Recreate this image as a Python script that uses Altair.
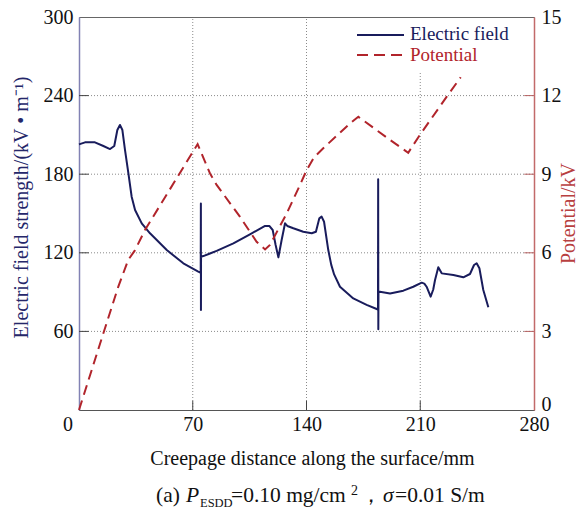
import altair as alt
import pandas as pd

# Electric field strength along the creepage path (kV/m)
dist_e = [0, 3.7, 9.8, 15, 19.1, 21.7, 23.6, 25.2, 26.7, 28.3, 30.4, 32.4, 34.5,
          38.6, 43.7, 54, 64.2, 73.4, 74.9, 75.0, 75.05, 75.1, 76.5, 80.6, 84.7,
          95, 105.2, 114.5, 117.1, 119.2, 121.0, 122.7, 124.7, 126.8, 128.2, 131.9,
          138, 143.2, 145.8, 147.9, 149.3, 150.8, 153.4, 155.2, 157, 160.6, 168.8,
          177, 183.2, 184.0, 184.1, 184.2, 184.3, 185.2, 191.4, 199.6, 205.7, 210.9,
          212.5, 213.9, 216.4, 218, 219.1, 221.1, 223.2, 230.4, 236.5, 240.6, 243.1,
          244.7, 246.4, 248.8, 251.9]
field_e = [202.8, 204.3, 204.3, 201.5, 199.2, 201.5, 213.7, 217.6, 213.7, 198.5,
           180.7, 162.8, 152.7, 142.5, 134.9, 122.1, 112, 105.6, 104.8, 157.7, 76.3,
           117, 117.5, 119.5, 121.5, 127.2, 134.1, 140.5, 140.5, 137.4, 126, 116.5,
           129.8, 142.5, 140.5, 138.7, 136.1, 134.9, 136.1, 146.3, 147.6, 143.7,
           122.1, 111, 103.5, 94.1, 85.2, 80.2, 77.1, 76.5, 176.1, 61.6, 90, 90.3,
           89, 91.1, 94.1, 97.2, 96.5, 94.1, 86.5, 92, 99.2, 108.9, 104.3, 103,
           101.3, 103.8, 110.7, 112, 108.2, 91.6, 78.4]

# Surface potential along the creepage path (kV)
dist_v = [0, 15, 24.2, 30.3, 34.5, 40.6, 73, 80.6, 84.7, 99, 109.3, 114.5, 117.5,
          127.8, 136, 140.1, 144.6, 150.3, 166.8, 171.9, 191.4, 202.6, 209.8,
          226.3, 234.9]
pot_v = [0, 2.93, 4.71, 5.73, 6.1, 6.87, 10.15, 9.03, 8.59, 7.38, 6.42, 6.13, 6.3,
         7.5, 8.59, 9.16, 9.64, 9.99, 10.94, 11.19, 10.31, 9.82, 10.5, 11.96, 12.7]

x_ticks = [70, 140, 210, 280]
x_grid = [70, 140, 210]
left_ticks = [60, 120, 180, 240, 300]
left_grid = [60, 120, 180, 240]
right_ticks = [0, 3, 6, 9, 12, 15]
right_inner = [3, 6, 9, 12]

NAVY = "#191c5c"
RED = "#b1242b"
RED_TITLE = "#b8403f"
FONT = "Liberation Serif"
FS = 20

field_df = pd.DataFrame({"d": dist_e, "E": field_e})
pot_df = pd.DataFrame({"d": dist_v, "V": pot_v})

x_scale = alt.Scale(domain=[0, 280], nice=False, zero=False)
e_scale = alt.Scale(domain=[0, 300], nice=False)
v_scale = alt.Scale(domain=[0, 15], nice=False)

# One axis definition per scale, shared by every layer that uses the scale
x_axis = alt.Axis(
    values=x_ticks, grid=False, ticks=False, domainColor="#555555",
    labelFont=FONT, labelFontSize=FS, labelColor="#111111", labelPadding=4,
    labelFlush=False,
    title="Creepage distance along the surface/mm", titleFont=FONT,
    titleFontSize=FS, titleFontWeight="normal", titleColor="#111111",
    titleX=233, titleY=54, titleAlign="center", titleBaseline="alphabetic",
)
e_axis = alt.Axis(
    values=left_ticks, grid=False, ticks=False, domainColor="#8282b4",
    domainWidth=1.5, labelFont=FONT, labelFontSize=FS, labelColor="#111111",
    labelPadding=6, labelFlush=False, title="Electric field strength/(kV • m⁻¹)",
    titleFont=FONT, titleFontSize=FS, titleFontWeight="normal",
    titleColor="#25276a", titleX=-58, titleY=190, titleAngle=270,
    titleBaseline="middle", titleAlign="center",
)
v_axis = alt.Axis(
    orient="right", values=right_ticks, grid=False, ticks=False,
    domainColor="#c26a6a", domainWidth=1.5, labelFont=FONT,
    labelFontSize=FS, labelColor="#111111", labelPadding=7, labelFlush=False,
    # the bottom "0" sits a little above the corner so it clears the "280"
    labelOffset={"condition": {"test": "datum.value === 0", "value": -6},
                 "value": 0},
    title="Potential/kV", titleFont=FONT, titleFontSize=FS,
    titleFontWeight="normal", titleColor=RED_TITLE, titleX=34,
    titleY=196, titleAngle=270, titleBaseline="middle", titleAlign="center",
)

# --- left (field) group -------------------------------------------------
vgrid = alt.Chart(pd.DataFrame({"d": x_grid})).mark_rule(
    color="#8a8a8a", strokeDash=[1, 2], strokeWidth=1
).encode(
    x=alt.X("d:Q", scale=x_scale, axis=x_axis),
    y=alt.datum(0, scale=e_scale, axis=e_axis),
    y2=alt.datum(300),
)
hgrid = alt.Chart(pd.DataFrame({"E": left_grid})).mark_rule(
    color="#8a8a8a", strokeDash=[1, 2], strokeWidth=1
).encode(
    y=alt.Y("E:Q", scale=e_scale, axis=e_axis),
    x=alt.datum(0, scale=x_scale, axis=x_axis),
    x2=alt.datum(280),
)
legend_bg = alt.Chart(pd.DataFrame({"k": [0]})).mark_rect(color="white").encode(
    x=alt.value(262), x2=alt.value(454), y=alt.value(1), y2=alt.value(54)
)
field_line = alt.Chart(field_df).mark_line(
    color=NAVY, strokeWidth=2, strokeJoin="round"
).encode(
    x=alt.X("d:Q", scale=x_scale, axis=x_axis),
    y=alt.Y("E:Q", scale=e_scale, axis=e_axis),
)
left_tick_marks = alt.Chart(pd.DataFrame({"E": left_grid})).mark_rule(
    color="#444444", strokeWidth=1
).encode(
    y=alt.Y("E:Q", scale=e_scale, axis=e_axis),
    x=alt.datum(0, scale=x_scale, axis=x_axis),
    x2=alt.datum(6),
)
bottom_tick_marks = alt.Chart(pd.DataFrame({"d": x_grid})).mark_rule(
    color="#444444", strokeWidth=1
).encode(
    x=alt.X("d:Q", scale=x_scale, axis=x_axis),
    y=alt.datum(0, scale=e_scale, axis=e_axis),
    y2=alt.datum(7),
)
zero_label = alt.Chart(pd.DataFrame({"d": [0]})).mark_text(
    text="0", font=FONT, fontSize=FS, color="#111111", dx=-11, dy=15,
    baseline="middle",
).encode(
    x=alt.X("d:Q", scale=x_scale, axis=x_axis),
    y=alt.datum(0, scale=e_scale, axis=e_axis),
)

left = alt.layer(vgrid, hgrid, legend_bg, field_line, left_tick_marks,
                 bottom_tick_marks, zero_label)

# --- right (potential) group ----------------------------------------------
pot_line = alt.Chart(pot_df).mark_line(
    color=RED, strokeWidth=2, strokeDash=[10, 6]
).encode(
    x=alt.X("d:Q", scale=x_scale, axis=x_axis),
    y=alt.Y("V:Q", scale=v_scale, axis=v_axis),
)
right_tick_marks = alt.Chart(pd.DataFrame({"V": right_inner})).mark_rule(
    color="#b56060", strokeWidth=1
).encode(
    y=alt.Y("V:Q", scale=v_scale, axis=v_axis),
    x=alt.datum(274, scale=x_scale, axis=x_axis),
    x2=alt.datum(280),
)
right = alt.layer(pot_line, right_tick_marks)

# --- legend ---------------------------------------------------------------
LFS = 19
legend_names = ["Electric field", "Potential"]
legend_rows = [17, 38]
legend_df = pd.DataFrame({"name": legend_names, "row": legend_rows})
leg_field = alt.Chart(legend_df.iloc[[0]]).mark_rule(
    color=NAVY, strokeWidth=2
).encode(x=alt.value(278), x2=alt.value(325), y=alt.value(18))
leg_pot = alt.Chart(legend_df.iloc[[1]]).mark_rule(
    color=RED, strokeWidth=2, strokeDash=[11, 6]
).encode(x=alt.value(278), x2=alt.value(325), y=alt.value(38))
leg_text = alt.Chart(legend_df).mark_text(
    font=FONT, fontSize=LFS, align="left", baseline="middle"
).encode(
    x=alt.value(331),
    y=alt.Y("row:Q", scale=None),
    text="name:N",
    color=alt.Color("name:N", scale=alt.Scale(domain=legend_names,
                                              range=[NAVY, RED]), legend=None),
)

# --- caption below the x title -------------------------------------------
cap_text = ["(a)", "P", "ESDD", "=0.10 mg/cm", "2", "，", "σ", "=0.01 S/m"]
cap_x = [77, 107, 121, 152, 272, 281, 304, 316]
cap_y = [485, 485, 490, 485, 478, 485, 485, 485]
cap_size = [21.5, 21.5, 12.5, 21.5, 14, 21.5, 21.5, 21.5]
cap_italic = [False, True, False, False, False, False, True, False]
cap_df = pd.DataFrame({"t": cap_text, "x": cap_x, "y": cap_y,
                       "fs": cap_size, "it": cap_italic})


def caption_layer(df, style):
    return alt.Chart(df).mark_text(
        font=FONT, align="left", baseline="alphabetic", color="#111111",
        fontStyle=style,
    ).encode(
        x=alt.X("x:Q", scale=None),
        y=alt.Y("y:Q", scale=None),
        text="t:N",
        size=alt.Size("fs:Q", scale=None, legend=None),
    )


cap_plain = caption_layer(cap_df[~cap_df["it"]], "normal")
cap_ital = caption_layer(cap_df[cap_df["it"]], "italic")

chart = alt.layer(left, right, leg_field, leg_pot, leg_text, cap_plain, cap_ital
).resolve_scale(
    y="independent", color="independent"
).properties(
    width=455, height=393,
    padding={"left": 79, "top": 17, "right": 46, "bottom": 100},
    autosize=alt.AutoSizeParams(type="none"),
    background="white",
).configure_view(stroke="#666666", strokeWidth=1)

chart.save("out.html", embed_options={"renderer": "svg", "actions": False})
